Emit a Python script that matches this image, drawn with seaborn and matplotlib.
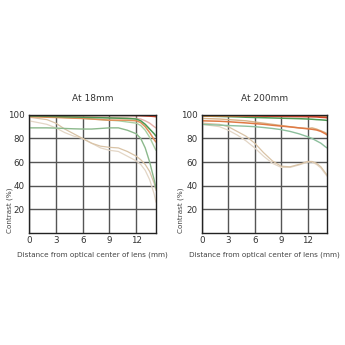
import matplotlib
matplotlib.use("Agg")
import matplotlib.pyplot as plt
import seaborn as sns
import pandas as pd

# ---- data ----
X = [0, 2, 3, 4, 5, 6, 7, 8, 9, 10, 11, 12, 12.5, 13, 13.5, 14, 14.2]

left_titles = "At 18mm"
right_titles = "At 200mm"

L_red      = [99.6, 99.6, 99.6, 99.6, 99.6, 99.6, 99.6, 99.6, 99.6, 99.6, 99.6, 99.5, 99.4, 99.2, 99.0, 98.7, 98.5]
L_pink     = [99.2, 99.0, 98.8, 98.6, 98.4, 98.2, 98.0, 97.8, 97.6, 97.5, 97.3, 97.0, 96.5, 95.0, 93.0, 90.0, 89.0]
L_green    = [99.0, 98.8, 98.6, 98.4, 98.2, 98.0, 97.8, 97.6, 97.4, 97.2, 97.0, 96.5, 95.0, 92.0, 88.0, 84.0, 82.0]
L_orange   = [98.5, 98.0, 97.8, 97.5, 97.2, 97.0, 96.5, 96.0, 95.5, 95.5, 95.5, 95.0, 93.5, 90.0, 85.0, 79.0, 77.0]
L_lgreen   = [98.8, 98.5, 98.2, 97.8, 97.5, 97.0, 96.5, 96.0, 95.5, 95.0, 94.0, 93.0, 91.0, 87.0, 81.0, 73.0, 70.0]
L_greenlow = [89.0, 89.0, 88.8, 88.5, 88.2, 88.0, 88.0, 88.5, 89.0, 89.0, 87.0, 84.0, 80.0, 72.0, 60.0, 45.0, 38.0]
L_tan1     = [98.0, 96.0, 93.0, 88.0, 84.0, 80.0, 76.0, 73.5, 72.5, 72.0, 69.0, 65.0, 62.0, 58.0, 52.0, 42.0, 36.0]
L_tan2     = [95.0, 92.0, 89.0, 85.0, 82.0, 80.0, 76.0, 72.0, 70.0, 69.0, 65.0, 61.0, 58.0, 53.0, 45.0, 33.0, 26.0]

R_red      = [99.5, 99.5, 99.5, 99.4, 99.3, 99.2, 99.0, 98.9, 98.8, 98.7, 98.6, 98.5, 98.4, 98.3, 98.0, 97.8, 97.6]
R_olive    = [99.0, 99.0, 99.0, 99.0, 99.0, 99.0, 99.0, 99.0, 99.0, 99.0, 99.0, 99.0, 99.0, 99.0, 99.0, 99.0, 99.0]
R_green    = [99.0, 98.7, 98.5, 98.3, 98.0, 97.8, 97.6, 97.4, 97.2, 97.0, 96.8, 96.5, 96.3, 96.0, 95.8, 95.5, 95.3]
R_tan      = [97.0, 96.5, 96.0, 95.5, 95.0, 94.0, 93.0, 92.0, 91.0, 90.0, 89.0, 88.5, 89.0, 88.0, 86.5, 85.0, 84.0]
R_orange   = [95.0, 94.6, 94.2, 93.7, 93.2, 92.6, 92.0, 91.2, 90.5, 89.8, 89.0, 88.2, 87.8, 87.2, 86.0, 84.0, 83.0]
R_greenlow = [92.0, 91.3, 91.0, 90.7, 90.4, 90.0, 89.3, 88.5, 87.5, 86.0, 84.0, 81.5, 80.0, 78.0, 76.0, 73.0, 72.0]
R_tan1     = [93.0, 92.0, 90.0, 86.0, 82.0, 76.0, 68.0, 61.0, 56.5, 56.0, 58.0, 60.5, 60.5, 59.0, 56.0, 51.0, 49.0]
R_tan2     = [92.0, 90.0, 87.0, 83.0, 78.0, 72.0, 65.0, 59.0, 55.5, 55.5, 57.5, 60.0, 60.0, 58.0, 55.0, 50.0, 48.0]

left_series = [
    ("tan2", L_tan2, "#e3d6c6", 0.9),
    ("tan1", L_tan1, "#d9c3a6", 0.9),
    ("greenlow", L_greenlow, "#8cb98c", 1.0),
    ("lgreen", L_lgreen, "#a9cfa3", 1.0),
    ("pink", L_pink, "#e6b0a8", 1.0),
    ("orange", L_orange, "#e0905a", 1.1),
    ("green", L_green, "#4e9a55", 1.1),
    ("red", L_red, "#d2432a", 1.2),
]
right_series = [
    ("tan2", R_tan2, "#e3d6c6", 0.9),
    ("tan1", R_tan1, "#d9c3a6", 0.9),
    ("greenlow", R_greenlow, "#8cbf9c", 1.0),
    ("tan", R_tan, "#d6b48a", 1.0),
    ("orange", R_orange, "#e07a45", 1.1),
    ("green", R_green, "#4e9a55", 1.1),
    ("olive", R_olive, "#c9a04a", 1.1),
    ("red", R_red, "#d2432a", 1.2),
]

sns.set_style("white")
plt.rcParams["font.family"] = ["DejaVu Sans"]

fig = plt.figure(figsize=(3.45, 3.45), dpi=100)
ax1 = fig.add_axes([0.084, 0.325, 0.368, 0.342])
ax2 = fig.add_axes([0.585, 0.325, 0.363, 0.342])

for ax, series, title, lx in [(ax1, left_series, left_titles, -0.155),
                              (ax2, right_series, right_titles, -0.17)]:
    for name, vals, col, lw in series:
        df = pd.DataFrame({"x": X, "y": vals})
        sns.lineplot(data=df, x="x", y="y", ax=ax, color=col, linewidth=lw)
    ax.set_xlim(0, 14.2)
    ax.set_ylim(0, 100)
    ax.set_xticks([0, 3, 6, 9, 12])
    ax.set_yticks([20, 40, 60, 80, 100])
    ax.grid(True, color="#555555", linewidth=1.0)
    ax.set_axisbelow(True)
    for s in ax.spines.values():
        s.set_color("#222222")
        s.set_linewidth(1.0)
    ax.tick_params(length=0, labelsize=6.3, colors="#333333", pad=3)
    ax.tick_params(axis="x", pad=2)
    ax.set_title(title, fontsize=6.5, color="#333333", pad=10)
    ax.set_xlabel("Distance from optical center of lens (mm)", fontsize=5.2, color="#444444", labelpad=5)
    ax.set_ylabel("Contrast (%)", fontsize=5.2, color="#444444", loc="bottom")
    ax.yaxis.set_label_coords(lx, 0.0)
    ax.yaxis.label.set_verticalalignment("center")

fig.savefig("out.png", dpi=100, facecolor="white")
